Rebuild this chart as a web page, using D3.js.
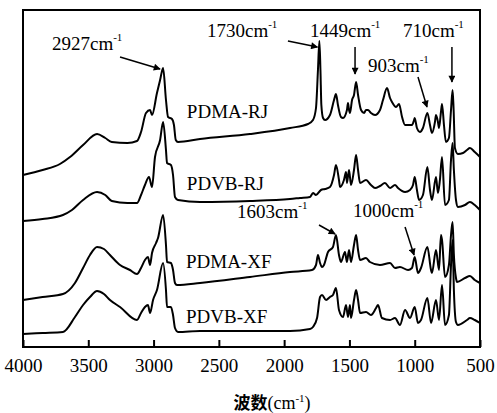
<!DOCTYPE html>
<html>
<head>
<meta charset="utf-8">
<script src="https://cdn.jsdelivr.net/npm/d3@7"></script>
<style>
  body { margin: 0; background: #fff; }
  text { font-family: "Liberation Serif", "Times New Roman", serif; fill: #000; }
</style>
</head>
<body>
<script>
const w = 497;
const h = 413;
const plotLeft = 23, plotRight = 480, plotTop = 10, plotBottom = 347;

// wavenumber (cm-1) vs. stacked absorbance (a.u.)
const pdmaRJ = [
  [4000, 172], [3850, 177], [3717, 183], [3640, 190], [3540, 202], [3433, 213], [3370, 209],
  [3320, 205], [3200, 204], [3127, 206], [3096, 215], [3058, 234], [3027, 237], [3012, 232],
  [2974, 254], [2950, 267], [2927, 279], [2905, 247], [2889, 230], [2859, 228], [2844, 222],
  [2830, 207], [2813, 205], [2644, 208], [2262, 213], [1955, 219], [1817, 223], [1779, 227],
  [1756, 239], [1741, 277], [1730, 306], [1722, 277], [1715, 242], [1702, 229], [1687, 227],
  [1649, 232], [1618, 247], [1603, 253], [1588, 242], [1565, 230], [1549, 229], [1519, 237],
  [1511, 244], [1503, 237], [1496, 234], [1480, 247], [1465, 252], [1449, 265], [1434, 252],
  [1411, 237], [1388, 234], [1373, 237], [1358, 237], [1335, 234], [1304, 232], [1266, 237],
  [1243, 247], [1212, 259], [1189, 249], [1174, 245], [1143, 240], [1120, 243], [1097, 230],
  [1074, 222], [1021, 222], [1005, 227], [1000, 229], [983, 219], [960, 215], [937, 219],
  [903, 234], [883, 222], [868, 214], [845, 225], [837, 232], [822, 225], [814, 219],
  [799, 235], [791, 243], [776, 222], [761, 205], [738, 209], [722, 237], [710, 257],
  [702, 237], [692, 199], [669, 193], [630, 194], [600, 197], [577, 199], [540, 195], [500, 190]
];
const pdvbRJ = [
  [4000, 126], [3850, 128], [3694, 132], [3625, 137], [3540, 147], [3433, 155], [3370, 152],
  [3320, 146], [3200, 144], [3127, 144], [3096, 152], [3066, 162], [3035, 170], [3012, 160],
  [2989, 190], [2950, 207], [2927, 225], [2905, 197], [2897, 184], [2867, 182], [2851, 172],
  [2836, 150], [2813, 147], [2644, 145], [2262, 146], [1955, 148], [1879, 149], [1802, 150],
  [1779, 154], [1756, 152], [1718, 157], [1687, 158], [1649, 160], [1618, 172], [1603, 182],
  [1580, 167], [1572, 160], [1542, 167], [1526, 175], [1519, 164], [1503, 177], [1488, 162],
  [1465, 177], [1449, 192], [1434, 177], [1419, 164], [1373, 167], [1335, 162], [1304, 159],
  [1266, 161], [1228, 164], [1189, 159], [1151, 162], [1128, 159], [1074, 155], [1036, 157],
  [1013, 162], [1000, 170], [983, 157], [967, 147], [937, 152], [903, 180], [883, 157],
  [868, 147], [837, 170], [822, 154], [807, 167], [791, 190], [768, 142], [738, 147],
  [722, 187], [710, 204], [700, 177], [684, 147], [669, 140], [615, 142], [577, 145],
  [540, 142], [500, 137]
];
const pdmaXF = [
  [4000, 47], [3850, 50], [3694, 53], [3602, 64], [3540, 79], [3487, 92], [3433, 100], [3380, 98],
  [3334, 92], [3257, 82], [3181, 77], [3127, 73], [3096, 79], [3066, 87], [3043, 90],
  [3027, 82], [3012, 94], [2981, 104], [2966, 109], [2927, 132], [2905, 102], [2897, 85],
  [2867, 84], [2851, 77], [2836, 64], [2821, 62], [2644, 64], [2262, 70], [1955, 75],
  [1787, 77], [1756, 82], [1741, 92], [1725, 84], [1710, 80], [1695, 82], [1664, 95],
  [1626, 100], [1603, 112], [1580, 92], [1565, 85], [1534, 95], [1519, 85], [1503, 97],
  [1488, 85], [1465, 102], [1449, 112], [1434, 97], [1419, 87], [1373, 89], [1343, 85],
  [1266, 82], [1189, 84], [1151, 79], [1113, 80], [1051, 77], [1021, 79], [1000, 90],
  [975, 74], [952, 79], [903, 100], [875, 77], [868, 74], [837, 97], [814, 77], [799, 112],
  [791, 107], [768, 70], [738, 82], [722, 112], [710, 125], [700, 92], [684, 69], [676, 65],
  [615, 69], [577, 71], [540, 67], [500, 64]
];
const pdvbXF = [
  [4000, 13], [3850, 14], [3694, 15], [3602, 30], [3540, 42], [3487, 50], [3433, 56], [3380, 53],
  [3334, 47], [3257, 40], [3127, 27], [3096, 34], [3066, 40], [3043, 42], [3027, 34],
  [3004, 47], [2974, 57], [2927, 84], [2905, 57], [2897, 40], [2867, 40], [2851, 32],
  [2836, 19], [2813, 15], [2644, 16], [2262, 16], [1955, 16], [1802, 18], [1779, 20],
  [1748, 29], [1725, 50], [1710, 52], [1679, 47], [1649, 50], [1626, 52], [1603, 59],
  [1580, 37], [1549, 30], [1526, 42], [1511, 30], [1496, 42], [1488, 29], [1465, 47],
  [1449, 57], [1434, 47], [1419, 34], [1373, 35], [1335, 32], [1296, 39], [1281, 42],
  [1251, 29], [1189, 27], [1151, 29], [1113, 22], [1074, 37], [1036, 29], [1000, 40],
  [975, 24], [952, 27], [903, 49], [875, 24], [837, 47], [814, 27], [791, 62], [768, 22],
  [738, 32], [722, 82], [710, 107], [700, 57], [684, 25], [669, 22], [600, 27], [577, 29],
  [540, 27], [500, 24]
];

const seriesNames = ["PDMA-RJ", "PDVB-RJ", "PDMA-XF", "PDVB-XF"];
const seriesData = [pdmaRJ, pdvbRJ, pdmaXF, pdvbXF];
// label anchor: [wavenumber, absorbance]
const labelPos = [[2745, 229], [2745, 157], [2752, 79], [2752, 24]];

const xTicks = [4000, 3500, 3000, 2500, 2000, 1500, 1000, 500];

// peak annotations: text, text anchor [wn, abs], arrow start, arrow end
const peaks = [
  { label: "2927", at: [3778, 297], from: [3257, 290], to: [2950, 278] },
  { label: "1730", at: [2591, 310], from: [1971, 306], to: [1745, 300] },
  { label: "1449", at: [1802, 310], from: [1457, 300], to: [1457, 273] },
  { label: "710", at: [1090, 310], from: [715, 300], to: [715, 265] },
  { label: "903", at: [1358, 275], from: [975, 270], to: [906, 240] },
  { label: "1603", at: [2361, 129], from: [1733, 122], to: [1610, 113] },
  { label: "1000", at: [1473, 130], from: [1074, 120], to: [1005, 92] }
];

const svg = d3.select("body").append("svg").attr("width", w).attr("height", h);

const x = d3.scaleLinear().domain([4000, 500]).range([plotLeft, plotRight]);
const y = d3.scaleLinear().domain([0, 337]).range([plotBottom, plotTop]);

svg.append("defs").append("marker")
  .attr("id", "arrow")
  .attr("viewBox", "0 0 10 10")
  .attr("refX", 9).attr("refY", 5)
  .attr("markerWidth", 9).attr("markerHeight", 7)
  .attr("markerUnits", "userSpaceOnUse")
  .attr("orient", "auto")
  .append("path")
  .attr("d", "M0,0L10,5L0,10z")
  .attr("fill", "#000");

const line = d3.line()
  .curve(d3.curveMonotoneX)
  .x(d => x(d[0]))
  .y(d => y(d[1]));

svg.selectAll("path.spec")
  .data(seriesData)
  .enter()
  .append("path")
  .attr("class", "spec")
  .attr("d", line)
  .attr("fill", "none")
  .attr("stroke", "#000")
  .attr("stroke-width", 2)
  .attr("stroke-linejoin", "round");

svg.selectAll("text.name")
  .data(seriesNames)
  .enter()
  .append("text")
  .attr("class", "name")
  .attr("x", (d, i) => x(labelPos[i][0]))
  .attr("y", (d, i) => y(labelPos[i][1]))
  .style("font-size", "19px")
  .text(d => d);

// frame
svg.append("rect")
  .attr("x", plotLeft).attr("y", plotTop)
  .attr("width", plotRight - plotLeft).attr("height", plotBottom - plotTop)
  .attr("fill", "none").attr("stroke", "#000").attr("stroke-width", 2);

const xAxis = d3.axisBottom(x)
  .tickValues(xTicks)
  .tickSizeInner(-7)
  .tickSizeOuter(0)
  .tickPadding(12)
  .tickFormat(d3.format("d"));

const gx = svg.append("g")
  .attr("transform", "translate(0," + plotBottom + ")")
  .call(xAxis);
gx.select(".domain").remove();
gx.selectAll("line").attr("stroke-width", 2);
gx.selectAll("text")
  .style("font-family", "'Liberation Serif', serif")
  .style("font-size", "19px");

// peak labels and arrows
peaks.forEach(function (p) {
  const t = svg.append("text")
    .attr("x", x(p.at[0]))
    .attr("y", y(p.at[1]))
    .style("font-size", "19px");
  t.append("tspan").text(p.label + "cm");
  t.append("tspan").attr("dy", -9).style("font-size", "11px").text("-1");

  svg.append("line")
    .attr("x1", x(p.from[0])).attr("y1", y(p.from[1]))
    .attr("x2", x(p.to[0])).attr("y2", y(p.to[1]))
    .attr("stroke", "#000")
    .attr("stroke-width", 1.5)
    .attr("marker-end", "url(#arrow)");
});

// axis title
const title = svg.append("text")
  .attr("x", 272)
  .attr("y", 409)
  .attr("text-anchor", "middle")
  .style("font-size", "18px");
title.append("tspan").style("font-family", "'Noto Sans CJK SC', sans-serif").style("font-weight", "bold").style("font-size", "17px").text("波数");
title.append("tspan").text("(cm");
title.append("tspan").attr("dy", -7).style("font-size", "11px").text("-1");
title.append("tspan").attr("dy", 7).text(")");
</script>
</body>
</html>
